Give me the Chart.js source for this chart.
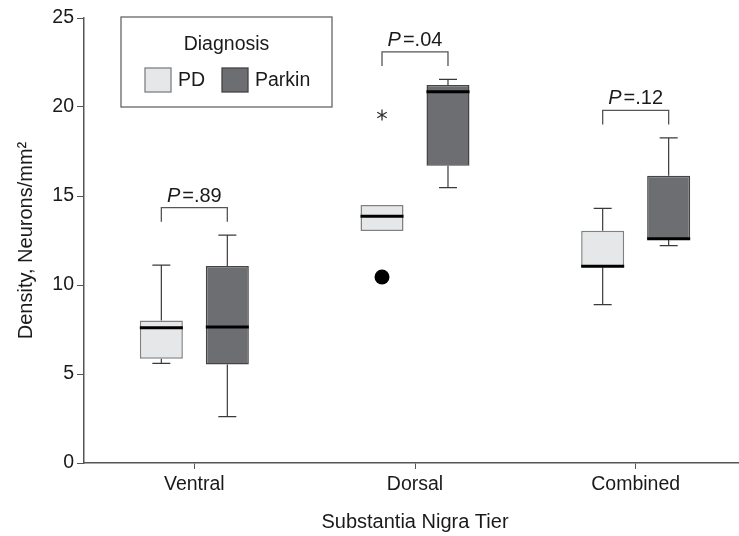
<!DOCTYPE html>
<html>
<head>
<meta charset="utf-8">
<script src="https://cdn.jsdelivr.net/npm/chart.js@4.4.1/dist/chart.umd.min.js"></script>
<style>
  html, body { margin: 0; padding: 0; background: #fff; overflow: hidden; }
  #wrap { width: 746px; height: 536px; position: relative; }
</style>
</head>
<body>
<div id="wrap"><canvas id="boxChart"></canvas></div>
<script>
// Substantia nigra neuron density, box plot summaries
const tiers = ['Ventral', 'Dorsal', 'Combined'];

const pdMin    = [5.6, 13.03, 8.9];
const pdQ1     = [5.86, 13.03, 11.0];
const pdMedian = [7.6, 13.86, 11.05];
const pdQ3     = [8.0, 14.49, 13.05];
const pdMax    = [11.12, 14.49, 14.3];

const parkinMin    = [2.6, 15.47, 12.21];
const parkinQ1     = [5.54, 16.7, 12.55];
const parkinMedian = [7.64, 20.86, 12.6];
const parkinQ3     = [11.07, 21.24, 16.14];
const parkinMax    = [12.8, 21.55, 18.26];

// outliers (dot) and extremes (asterisk) for PD
const pdOutliers = [[], [10.45], []];
const pdExtremes = [[], [19.55], []];

const pValues = ['.89', '.04', '.12'];
const yTicks = [0, 5, 10, 15, 20, 25];

const FONT = "'Liberation Sans', Arial, sans-serif";
const TEXT = '#1a1a1a';
const AXIS = '#555';

const stats = [
  { min: pdMin, q1: pdQ1, med: pdMedian, q3: pdQ3, max: pdMax },
  { min: parkinMin, q1: parkinQ1, med: parkinMedian, q3: parkinQ3, max: parkinMax }
];

// whiskers, medians, outliers, p-value brackets and legend
const boxPlotPlugin = {
  id: 'boxPlot',
  afterDatasetsDraw(chart) {
    const ctx = chart.ctx;
    const y = chart.scales.y;
    const area = chart.chartArea;
    ctx.save();

    stats.forEach((s, di) => {
      const meta = chart.getDatasetMeta(di);
      meta.data.forEach((bar, i) => {
        const cx = bar.x, w = bar.width;
        // whiskers
        ctx.strokeStyle = '#3a3a3a';
        ctx.lineWidth = 1.2;
        const cap = 9;
        [[s.q3[i], s.max[i]], [s.q1[i], s.min[i]]].forEach(([from, to]) => {
          if (Math.abs(to - from) < 0.01) return;
          ctx.beginPath();
          ctx.moveTo(cx, y.getPixelForValue(from));
          ctx.lineTo(cx, y.getPixelForValue(to));
          ctx.moveTo(cx - cap, y.getPixelForValue(to));
          ctx.lineTo(cx + cap, y.getPixelForValue(to));
          ctx.stroke();
        });
        // median
        ctx.strokeStyle = '#000';
        ctx.lineWidth = 3;
        ctx.beginPath();
        ctx.moveTo(cx - w / 2, y.getPixelForValue(s.med[i]));
        ctx.lineTo(cx + w / 2, y.getPixelForValue(s.med[i]));
        ctx.stroke();

        if (di === 0) {
          ctx.fillStyle = '#000';
          pdOutliers[i].forEach(v => {
            ctx.beginPath();
            ctx.arc(cx, y.getPixelForValue(v), 7.5, 0, Math.PI * 2);
            ctx.fill();
          });
          ctx.strokeStyle = '#333';
          ctx.lineWidth = 1.3;
          pdExtremes[i].forEach(v => {
            const py = y.getPixelForValue(v);
            ctx.beginPath();
            for (let a = 0; a < 3; a++) {
              const ang = Math.PI / 2 + a * Math.PI / 3;
              ctx.moveTo(cx - Math.cos(ang) * 5.5, py - Math.sin(ang) * 5.5);
              ctx.lineTo(cx + Math.cos(ang) * 5.5, py + Math.sin(ang) * 5.5);
            }
            ctx.stroke();
          });
        }
      });
    });

    // p-value brackets
    const pdMeta = chart.getDatasetMeta(0), pkMeta = chart.getDatasetMeta(1);
    tiers.forEach((t, i) => {
      const x1 = pdMeta.data[i].x, x2 = pkMeta.data[i].x;
      const top = Math.max(pdMax[i], parkinMax[i]) + 1.55;
      const yt = y.getPixelForValue(top);
      const yb = y.getPixelForValue(top - 0.8);
      ctx.strokeStyle = AXIS;
      ctx.lineWidth = 1.3;
      ctx.beginPath();
      ctx.moveTo(x1, yb);
      ctx.lineTo(x1, yt);
      ctx.lineTo(x2, yt);
      ctx.lineTo(x2, yb);
      ctx.stroke();

      ctx.fillStyle = TEXT;
      ctx.textBaseline = 'alphabetic';
      const pTxt = 'P', rest = '=' + pValues[i];
      ctx.font = 'italic 20px ' + FONT;
      const wP = ctx.measureText(pTxt).width;
      ctx.font = '20px ' + FONT;
      const wR = ctx.measureText(rest).width;
      const start = (x1 + x2) / 2 - (wP + wR + 2) / 2;
      ctx.textAlign = 'left';
      ctx.font = 'italic 20px ' + FONT;
      ctx.fillText(pTxt, start, yt - 6);
      ctx.font = '20px ' + FONT;
      ctx.fillText(rest, start + wP + 2, yt - 6);
    });

    // legend box
    const lx = area.left + 37, ly = area.top - 1, lw = 211, lh = 90;
    ctx.strokeStyle = '#666';
    ctx.lineWidth = 1.3;
    ctx.strokeRect(lx, ly, lw, lh);
    ctx.fillStyle = TEXT;
    ctx.font = '19.5px ' + FONT;
    ctx.textAlign = 'center';
    ctx.textBaseline = 'middle';
    ctx.fillText('Diagnosis', lx + lw / 2, ly + 28);
    const items = [
      { label: chart.data.datasets[0].label, fill: chart.data.datasets[0].backgroundColor, stroke: chart.data.datasets[0].borderColor, x: lx + 24 },
      { label: chart.data.datasets[1].label, fill: chart.data.datasets[1].backgroundColor, stroke: chart.data.datasets[1].borderColor, x: lx + 101 }
    ];
    items.forEach(it => {
      ctx.fillStyle = it.fill;
      ctx.fillRect(it.x, ly + 51, 26, 24);
      ctx.strokeStyle = it.stroke;
      ctx.lineWidth = 1.3;
      ctx.strokeRect(it.x, ly + 51, 26, 24);
      ctx.fillStyle = TEXT;
      ctx.textAlign = 'left';
      ctx.fillText(it.label, it.x + 33, ly + 64);
    });
    ctx.restore();
  }
};

const ctx = document.getElementById('boxChart').getContext('2d');
new Chart(ctx, {
  type: 'bar',
  data: {
    labels: tiers,
    datasets: [{
      label: 'PD',
      data: pdQ1.map((q, i) => [q, pdQ3[i]]),
      backgroundColor: '#e6e7e8',
      borderColor: '#7f8082',
      borderWidth: 1.5,
      borderSkipped: false
    }, {
      label: 'Parkin',
      data: parkinQ1.map((q, i) => [q, parkinQ3[i]]),
      backgroundColor: '#6d6e71',
      borderColor: '#444446',
      borderWidth: 1.5,
      borderSkipped: false
    }]
  },
  options: {
    responsive: true,
    maintainAspectRatio: false,
    animation: false,
    categoryPercentage: 0.598,
    barPercentage: 0.652,
    layout: { padding: { top: 18, right: 0, left: 0, bottom: 0 } },
    plugins: {
      legend: { display: false },
      tooltip: { enabled: false }
    },
    scales: {
      x: {
        grid: { drawOnChartArea: false, drawTicks: true, tickLength: 6, color: AXIS, offset: false },
        border: { color: AXIS, width: 1.5 },
        ticks: { color: TEXT, font: { family: FONT, size: 19.5 }, padding: 4 },
        title: { display: true, text: 'Substantia Nigra Tier', color: TEXT, font: { family: FONT, size: 20 }, padding: { top: 0, bottom: 2 } },
        afterFit: s => { s.height = 73; }
      },
      y: {
        min: 0,
        max: 25,
        afterBuildTicks: s => { s.ticks = yTicks.map(v => ({ value: v })); },
        grid: { drawOnChartArea: false, drawTicks: true, tickLength: 7, color: AXIS },
        border: { color: AXIS, width: 1.5 },
        ticks: { color: TEXT, font: { family: FONT, size: 19.5 }, padding: 3 },
        title: { display: true, text: 'Density, Neurons/mm²', color: TEXT, font: { family: FONT, size: 20 }, padding: { top: 14, bottom: 0 } },
        afterFit: s => { s.width = 84; }
      }
    }
  },
  plugins: [boxPlotPlugin]
});
</script>
</body>
</html>
